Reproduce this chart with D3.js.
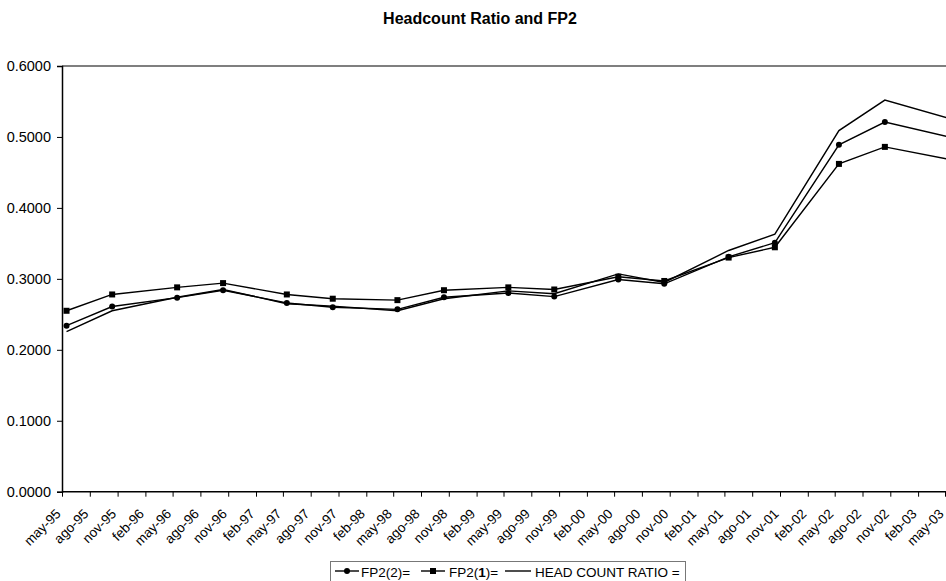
<!DOCTYPE html>
<html>
<head>
<meta charset="utf-8">
<script src="https://cdn.jsdelivr.net/npm/d3@7"></script>
<style>
  html, body { margin: 0; padding: 0; background: #fff; }
  svg { display: block; }
  text { font-family: "Liberation Sans", Arial, sans-serif; fill: #000; }
</style>
</head>
<body>
<svg id="chart" width="946" height="581"></svg>
<script>
// Survey waves (May / October) of each year
const waveDates = [
  "1995-05-16", "1995-10-14", "1996-05-16", "1996-10-15", "1997-05-14", "1997-10-13",
  "1998-05-15", "1998-10-16", "1999-05-17", "1999-10-16", "2000-05-15", "2000-10-14",
  "2001-05-15", "2001-10-15", "2002-05-15", "2002-10-14", "2003-05-15"
];

// FP2(2) — circles
const fp2_2 = [0.234, 0.261, 0.2735, 0.284, 0.266, 0.260, 0.257, 0.274, 0.280, 0.275,
               0.299, 0.293, 0.331, 0.351, 0.489, 0.521, 0.500];
// FP2(1) — squares
const fp2_1 = [0.255, 0.278, 0.288, 0.294, 0.278, 0.272, 0.270, 0.284, 0.288, 0.285,
               0.303, 0.297, 0.330, 0.3445, 0.462, 0.486, 0.4685];
// Head count ratio — plain line
const headCount = [0.2255, 0.255, 0.274, 0.285, 0.265, 0.2615, 0.255, 0.272, 0.283, 0.279,
                   0.307, 0.295, 0.340, 0.363, 0.509, 0.552, 0.526];

// Quarterly axis labels
const tickLabels = [
  "may-95", "ago-95", "nov-95", "feb-96", "may-96", "ago-96", "nov-96", "feb-97",
  "may-97", "ago-97", "nov-97", "feb-98", "may-98", "ago-98", "nov-98", "feb-99",
  "may-99", "ago-99", "nov-99", "feb-00", "may-00", "ago-00", "nov-00", "feb-01",
  "may-01", "ago-01", "nov-01", "feb-02", "may-02", "ago-02", "nov-02", "feb-03", "may-03"
];
const yTicks = [0, 0.1, 0.2, 0.3, 0.4, 0.5, 0.6];

const monthIndex = { ene: 0, feb: 1, mar: 2, abr: 3, may: 4, jun: 5, jul: 6, ago: 7, sep: 8, oct: 9, nov: 10, dic: 11 };
const labelToDate = s => {
  const [m, y] = s.split("-");
  return new Date(2000 + (+y < 50 ? +y : +y - 100), monthIndex[m], 1);
};
const tickDates = tickLabels.map(labelToDate);
const parse = d3.timeParse("%Y-%m-%d");
const dates = waveDates.map(parse);

const plot = { left: 62, right: 945, top: 66, bottom: 491.7 };

const svg = d3.select("#chart");

const x = d3.scaleTime()
  .domain([tickDates[0], tickDates[tickDates.length - 1]])
  .range([plot.left, plot.right]);
const y = d3.scaleLinear().domain([0, 0.6]).range([plot.bottom, plot.top]);

// Title
svg.append("text")
  .attr("x", 480).attr("y", 24)
  .attr("text-anchor", "middle")
  .style("font-size", "16px").style("font-weight", "bold")
  .text("Headcount Ratio and FP2");

// Top frame line
svg.append("line")
  .attr("x1", plot.left).attr("x2", 946)
  .attr("y1", plot.top).attr("y2", plot.top)
  .attr("stroke", "#555").attr("stroke-width", 1.5);

// Y axis
const yAxis = svg.append("g")
  .attr("transform", `translate(${plot.left},0)`)
  .call(d3.axisLeft(y).tickValues(yTicks).tickFormat(d3.format(".4f")).tickSize(5).tickPadding(6));
yAxis.select(".domain").attr("stroke", "#000").attr("stroke-width", 1.5);
yAxis.selectAll(".tick line").attr("stroke", "#000");
yAxis.selectAll(".tick text")
  .style("font-size", "14.5px")
  .style("font-family", "'Liberation Sans', Arial, sans-serif");

// X axis
const xAxis = svg.append("g")
  .attr("transform", `translate(0,${plot.bottom})`)
  .call(d3.axisBottom(x).tickValues(tickDates).tickFormat((d, i) => tickLabels[i]).tickSize(5).tickSizeOuter(0));
xAxis.select(".domain").attr("stroke", "#000").attr("stroke-width", 1.5)
  .attr("d", `M${plot.left},0H946`);
xAxis.selectAll(".tick line").attr("stroke", "#000");
xAxis.selectAll(".tick text")
  .style("font-size", "13.5px")
  .style("font-family", "'Liberation Sans', Arial, sans-serif")
  .attr("text-anchor", "end")
  .attr("dy", null)
  .attr("y", 0)
  .attr("transform", "translate(-1,23) rotate(-45)");

// Clip to plot area
svg.append("clipPath").attr("id", "plotClip")
  .append("rect")
  .attr("x", plot.left).attr("y", plot.top - 5)
  .attr("width", 946 - plot.left).attr("height", plot.bottom - plot.top + 5);

const g = svg.append("g").attr("clip-path", "url(#plotClip)");

const line = d3.line().x((d, i) => x(dates[i])).y(d => y(d));

const series = [
  { name: "FP2(2)", values: fp2_2, marker: "circle" },
  { name: "FP2(1)", values: fp2_1, marker: "square" },
  { name: "HCR", values: headCount, marker: null }
];

series.forEach(s => {
  g.append("path")
    .attr("d", line(s.values))
    .attr("fill", "none")
    .attr("stroke", "#000")
    .attr("stroke-width", 1.4);
});

series.forEach(s => {
  if (s.marker === "circle") {
    g.selectAll(null).data(s.values).enter().append("circle")
      .attr("cx", (d, i) => x(dates[i])).attr("cy", d => y(d))
      .attr("r", 3).attr("fill", "#000");
  } else if (s.marker === "square") {
    g.selectAll(null).data(s.values).enter().append("rect")
      .attr("x", (d, i) => x(dates[i]) - 3).attr("y", d => y(d) - 3)
      .attr("width", 6).attr("height", 6).attr("fill", "#000");
  }
});

// Legend
const legend = svg.append("g");
legend.append("rect")
  .attr("x", 330.5).attr("y", 561.5).attr("width", 355).attr("height", 30)
  .attr("fill", "#fff").attr("stroke", "#777").attr("stroke-width", 1);

const ly = 571;
const lty = 576.5;
// FP2(2)
legend.append("line").attr("x1", 335).attr("x2", 359).attr("y1", ly).attr("y2", ly)
  .attr("stroke", "#000").attr("stroke-width", 1.4);
legend.append("circle").attr("cx", 347).attr("cy", ly).attr("r", 3).attr("fill", "#000");
legend.append("text").attr("x", 361).attr("y", lty).style("font-size", "13.5px").text("FP2(2)=");
// FP2(1)
legend.append("line").attr("x1", 421).attr("x2", 445).attr("y1", ly).attr("y2", ly)
  .attr("stroke", "#000").attr("stroke-width", 1.4);
legend.append("rect").attr("x", 430).attr("y", ly - 3).attr("width", 6).attr("height", 6).attr("fill", "#000");
const t1 = legend.append("text").attr("x", 449).attr("y", lty).style("font-size", "13.5px");
t1.append("tspan").text("FP2(");
t1.append("tspan").style("font-weight", "bold").text("1");
t1.append("tspan").text(")=");
// Head count ratio
legend.append("line").attr("x1", 505).attr("x2", 531).attr("y1", ly).attr("y2", ly)
  .attr("stroke", "#000").attr("stroke-width", 1.4);
legend.append("text").attr("x", 535).attr("y", lty).style("font-size", "13.5px").text("HEAD COUNT RATIO =");
</script>
</body>
</html>
